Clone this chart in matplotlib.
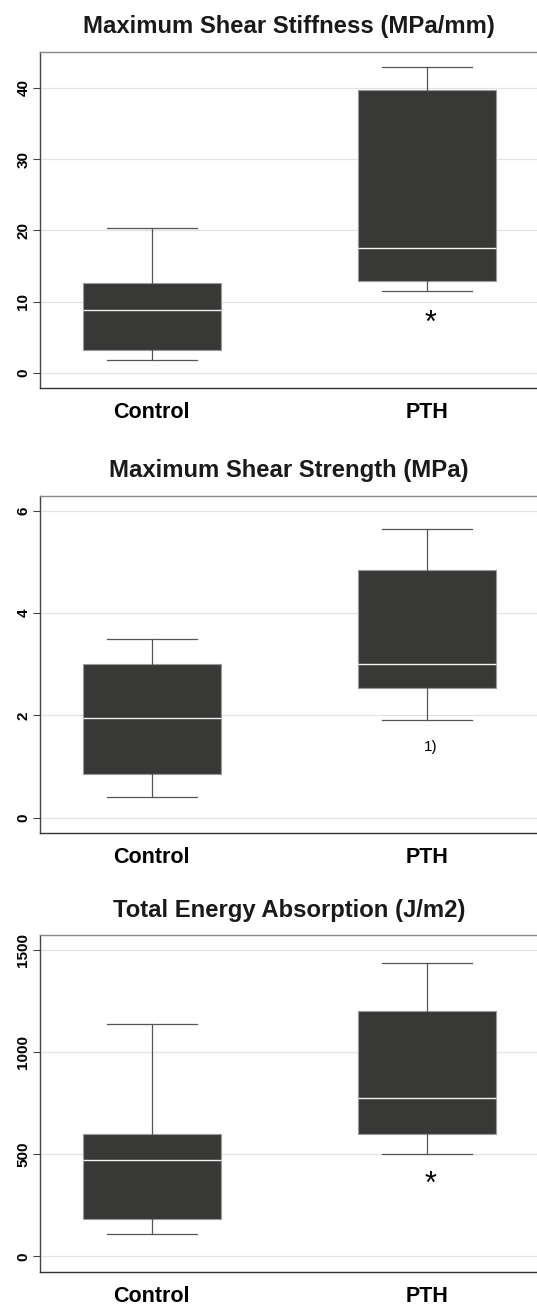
import matplotlib
matplotlib.use('Agg')
import matplotlib.pyplot as plt

plt.rcParams['font.family'] = ['Liberation Sans', 'DejaVu Sans']

groups = ['Control', 'PTH']

# box statistics: low whisker, Q1, median, Q3, high whisker
stiff_control = [1.8, 3.2, 8.9, 12.55, 20.35]
stiff_pth = [11.45, 12.85, 17.5, 39.7, 42.85]
strength_control = [0.4, 0.85, 1.95, 3.0, 3.49]
strength_pth = [1.9, 2.54, 3.0, 4.85, 5.65]
energy_control = [111, 183, 472, 597, 1138]
energy_pth = [499, 598, 775, 1200, 1438]

titles = ['Maximum Shear Stiffness (MPa/mm)',
          'Maximum Shear Strength (MPa)',
          'Total Energy Absorption (J/m2)']
yticks = [[0, 10, 20, 30, 40], [0, 2, 4, 6], [0, 500, 1000, 1500]]
ylims = [(-2.1, 45), (-0.30, 6.29), (-77, 1574)]
# annotation under PTH box: (text, y value)
notes = [('*', 7.8), ('1)', 1.38), ('*', 378)]

data = [(stiff_control, stiff_pth),
        (strength_control, strength_pth),
        (energy_control, energy_pth)]

W, H = 537, 1305
fig = plt.figure(figsize=(W / 100, H / 100), dpi=100)

# axes boxes in pixels: (top, bottom)
rows = [(52, 388), (496, 833), (935, 1272)]
left, right = 40, 537

for i, (top, bottom) in enumerate(rows):
    ax = fig.add_axes([left / W, 1 - bottom / H, (right - left) / W, (bottom - top) / H])
    stats = []
    for name, v in zip(groups, data[i]):
        stats.append(dict(label=name, whislo=v[0], q1=v[1], med=v[2], q3=v[3], whishi=v[4], fliers=[]))
    ax.bxp(stats, positions=[1, 2], widths=0.5, patch_artist=True, showfliers=False,
           boxprops=dict(facecolor='#383836', edgecolor='#9a9a9a', linewidth=0.8),
           medianprops=dict(color='#f0f0f0', linewidth=1.0),
           whiskerprops=dict(color='#555555', linewidth=0.9),
           capprops=dict(color='#555555', linewidth=0.9),
           capwidths=0.326)
    ax.set_xlim(0.595, 2.398)
    ax.set_ylim(*ylims[i])
    ax.set_yticks(yticks[i])
    ax.set_yticklabels([str(t) for t in yticks[i]], rotation=90, va='center',
                       fontsize=11, fontweight='bold')
    ax.set_xticks([1, 2])
    ax.set_xticklabels(groups, fontsize=15.5, fontweight='bold')
    ax.tick_params(axis='x', length=0, pad=10)
    ax.tick_params(axis='y', length=5, width=0.8, color='#444444', pad=2)
    ax.yaxis.grid(True, color='#e3e3e3', linewidth=0.9)
    ax.set_axisbelow(True)
    ax.spines['right'].set_visible(False)
    ax.spines['top'].set_color('#888888')
    ax.spines['left'].set_color('#444444')
    ax.spines['bottom'].set_color('#333333')
    for s in ['top', 'left', 'bottom']:
        ax.spines[s].set_linewidth(1.0)
    txt, yv = notes[i]
    if txt == '*':
        ax.annotate(txt, (2.01, yv), xytext=(0, -4.5), textcoords='offset points',
                    ha='center', va='center', fontsize=22)
    else:
        ax.text(2.013, yv, txt, ha='center', va='center', fontsize=11)
    fig.text(289 / W, 1 - (top - 25) / H, titles[i],
             ha='center', va='center', fontsize=17.2, fontweight='bold', color='#1a1a1a')

fig.savefig('out.png', dpi=100)
